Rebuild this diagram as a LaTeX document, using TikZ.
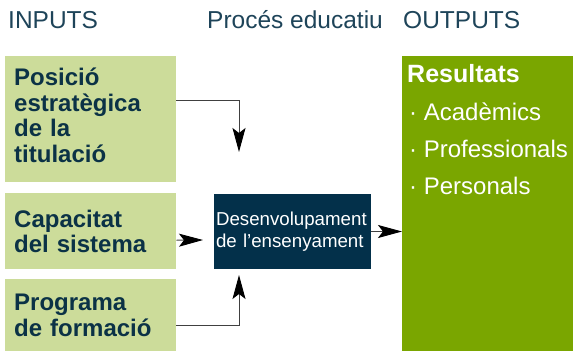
\documentclass[tikz,border=0pt]{standalone}
\usepackage{fontspec}
\setmainfont{Liberation Sans}
\usetikzlibrary{arrows.meta}

\definecolor{inputgreen}{HTML}{CCDC9A}
\definecolor{outputgreen}{HTML}{7AA600}
\definecolor{procblue}{HTML}{03304A}
\definecolor{navytext}{HTML}{0B3246}
\definecolor{headtext}{HTML}{1E4459}

\tikzset{
    header/.style={anchor=base west, text=headtext, inner sep=0pt, font=\fontsize{24.5}{28}\selectfont},
    inputbox/.style={anchor=north west, fill=inputgreen, text=navytext, align=left,
        text width=153pt, inner xsep=9pt, inner ysep=0pt,
        font=\fontsize{24}{25.5}\selectfont\bfseries},
    item/.style={anchor=base west, text=white, inner sep=0pt, font=\fontsize{24}{28}\selectfont},
    arr/.style={draw=black!75, line width=0.9pt, -{Stealth[length=24pt, width=13pt, inset=5pt, black]}}
}

\begin{document}
\begin{tikzpicture}[x=1pt, y=-1pt]
    \useasboundingbox (0,0) rectangle (573,351);

    % Column headers
    \node[header] (hin) at (8,28) {INPUTS};
    \node[header] (hproc) at (207,28) {Procés educatiu};
    \node[header] (hout) at (403,28) {OUTPUTS};

    % Inputs
    \node[inputbox, minimum height=126pt] (pos) at (5,56) {Posició\\estratègica\\de la\\titulació\vspace{8pt}};
    \node[inputbox, minimum height=76pt] (cap) at (5,193) {Capacitat\\del sistema};
    \node[inputbox, minimum height=72pt] (prog) at (5,279) {Programa\\de formació};

    % Process
    \node[fill=procblue, text=white, align=left, minimum width=157pt, minimum height=75pt,
        text width=153pt, inner xsep=2pt, font=\fontsize{18.7}{22}\selectfont] (dev) at (292.5,231.5)
        {Desenvolupament\\de l’ensenyament};

    % Outputs
    \node[anchor=north west, fill=outputgreen, minimum width=171pt, minimum height=295pt] (res) at (402,56) {};
    \node[item, font=\fontsize{25}{28}\selectfont\bfseries] (restitle) at (407,82) {Resultats};
    \foreach \t [count=\i] in {Acadèmics, Professionals, Personals} {
        \node[item] (res\i) at (409,83+37*\i) {· \t};
    }

    % Connectors
    \coordinate (in1) at (239,152);
    \coordinate (in2) at (203,240);
    \coordinate (in3) at (239,275);
    \draw[arr] ([yshift=19pt]pos.east) -| (in1);
    \draw[arr] ([yshift=-9pt]cap.east) -- (in2);
    \draw[arr] ([yshift=-10pt]prog.east) -| (in3);
    \draw[arr] (dev.east) -- (dev.east -| res.west);
\end{tikzpicture}
\end{document}
